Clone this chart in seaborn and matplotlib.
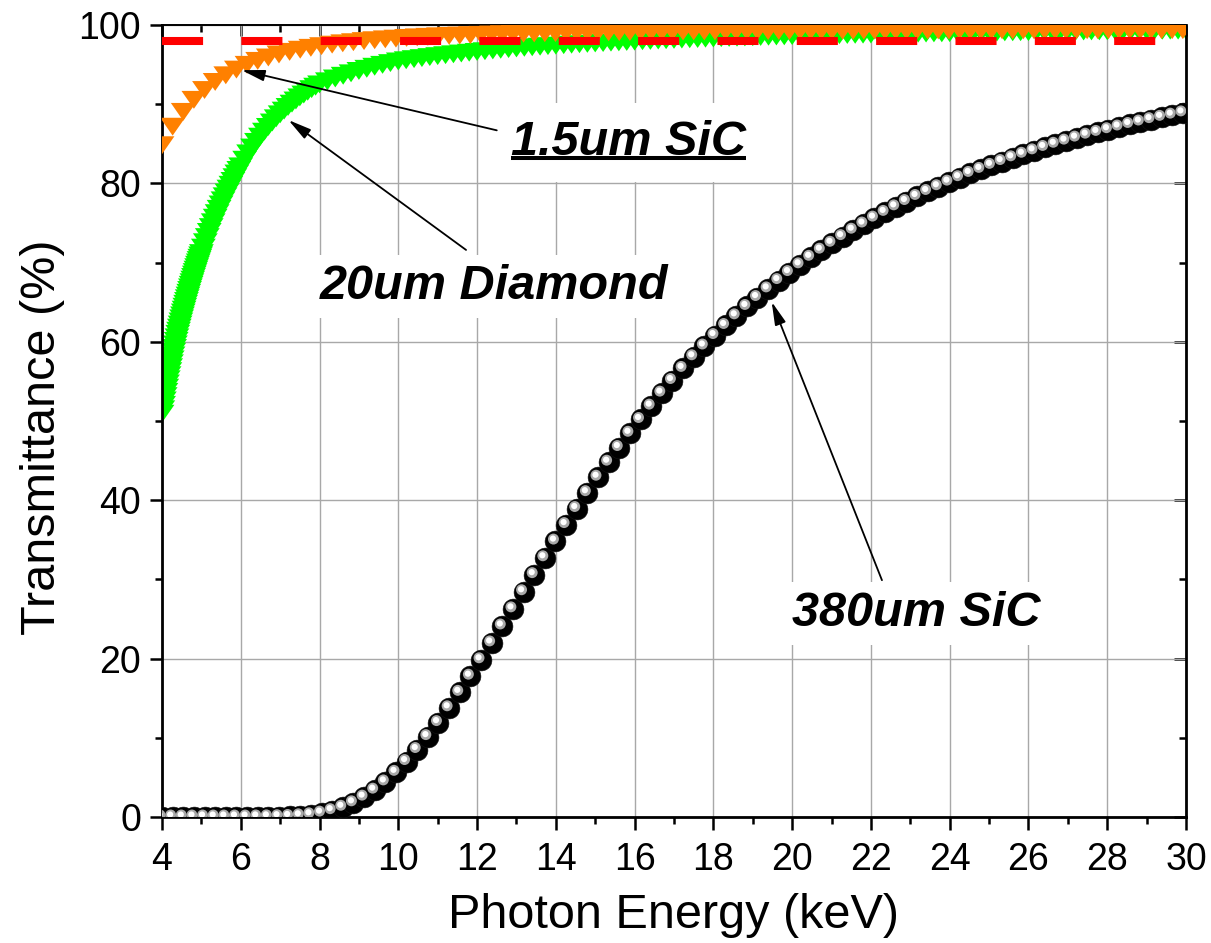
import matplotlib
matplotlib.use("Agg")
import matplotlib.pyplot as plt
import seaborn as sns
import pandas as pd
from matplotlib.ticker import MultipleLocator
from matplotlib.path import Path
from matplotlib.markers import MarkerStyle
from matplotlib.transforms import offset_copy
from matplotlib.lines import Line2D

# ---------------- data ----------------
energy_sic = [4.00, 4.27, 4.54, 4.81, 5.08, 5.35, 5.62, 5.89, 6.16, 6.43,
              6.70, 6.97, 7.24, 7.51, 7.78, 8.05, 8.32, 8.59, 8.86, 9.13,
              9.40, 9.67, 9.94, 10.21, 10.48, 10.75, 11.02, 11.29, 11.56, 11.83,
              12.10, 12.37, 12.64, 12.91, 13.18, 13.45, 13.72, 13.99, 14.26, 14.53,
              14.80, 15.07, 15.34, 15.61, 15.88, 16.15, 16.42, 16.69, 16.96, 17.23,
              17.50, 17.77, 18.04, 18.31, 18.58, 18.85, 19.12, 19.39, 19.66, 19.93,
              20.20, 20.47, 20.74, 21.01, 21.28, 21.55, 21.82, 22.09, 22.36, 22.63,
              22.90, 23.17, 23.44, 23.71, 23.98, 24.25, 24.52, 24.79, 25.06, 25.33,
              25.60, 25.87, 26.14, 26.41, 26.68, 26.95, 27.22, 27.49, 27.76, 28.03,
              28.30, 28.57, 28.84, 29.11, 29.38, 29.65, 29.92]

sic_380um = [0.00, 0.00, 0.00, 0.00, 0.00, 0.00, 0.00, 0.00, 0.00, 0.01,
             0.02, 0.04, 0.07, 0.15, 0.28, 0.49, 0.80, 1.23, 1.79, 2.51,
             3.39, 4.43, 5.64, 7.00, 8.52, 10.15, 11.92, 13.79, 15.74, 17.78,
             19.85, 21.98, 24.12, 26.28, 28.44, 30.60, 32.73, 34.84, 36.92, 38.95,
             40.95, 42.90, 44.80, 46.65, 48.45, 50.19, 51.88, 53.52, 55.11, 56.64,
             58.11, 59.47, 60.79, 62.06, 63.28, 64.46, 65.59, 66.68, 67.73, 68.74,
             69.72, 70.67, 71.57, 72.44, 73.28, 74.09, 74.87, 75.62, 76.34, 77.04,
             77.71, 78.35, 78.98, 79.58, 80.16, 80.72, 81.26, 81.77, 82.28, 82.76,
             83.23, 83.68, 84.11, 84.54, 84.94, 85.34, 85.72, 86.09, 86.44, 86.78,
             87.12, 87.44, 87.75, 88.05, 88.34, 88.62, 88.90]

sic_1p5um = [84.82, 87.16, 89.03, 90.55, 91.79, 92.81, 93.65, 94.37, 94.97, 95.47,
             95.90, 96.28, 96.61, 96.88, 97.12, 97.33, 97.52, 97.69, 97.83, 97.97,
             98.08, 98.19, 98.28, 98.37, 98.44, 98.51, 98.57, 98.63, 98.67, 98.72,
             98.76, 98.80, 98.84, 98.87, 98.90, 98.93, 98.96, 98.98, 99.01, 99.03,
             99.05, 99.07, 99.08, 99.10, 99.11, 99.13, 99.14, 99.15, 99.17, 99.18,
             99.19, 99.19, 99.20, 99.21, 99.22, 99.23, 99.23, 99.24, 99.25, 99.25,
             99.26, 99.26, 99.27, 99.27, 99.28, 99.28, 99.29, 99.29, 99.29, 99.30,
             99.30, 99.30, 99.31, 99.31, 99.31, 99.32, 99.32, 99.32, 99.32, 99.33,
             99.33, 99.33, 99.33, 99.33, 99.34, 99.34, 99.34, 99.34, 99.34, 99.34,
             99.35, 99.35, 99.35, 99.35, 99.35, 99.35, 99.35]

energy_diamond = [4.00, 4.02, 4.04, 4.06, 4.08, 4.10, 4.12, 4.14, 4.16, 4.18,
                  4.20, 4.22, 4.24, 4.26, 4.28, 4.30, 4.32, 4.34, 4.36, 4.38,
                  4.40, 4.42, 4.44, 4.46, 4.48, 4.50, 4.52, 4.54, 4.56, 4.58,
                  4.60, 4.62, 4.64, 4.66, 4.68, 4.70, 4.72, 4.74, 4.76, 4.78,
                  4.80, 4.82, 4.84, 4.86, 4.88, 4.90, 4.92, 4.94, 4.96, 4.98, 5.00,
                  5.05, 5.10, 5.15, 5.20, 5.25, 5.30, 5.35, 5.40, 5.45, 5.50,
                  5.55, 5.60, 5.65, 5.70, 5.75, 5.80, 5.85, 5.90, 5.95, 6.00,
                  6.1, 6.2, 6.3, 6.4, 6.5, 6.6, 6.7, 6.8, 6.9, 7.0,
                  7.1, 7.2, 7.3, 7.4, 7.5, 7.6, 7.7, 7.8, 7.9, 8.0,
                  8.2, 8.4, 8.6, 8.8, 9.0, 9.2, 9.4, 9.6, 9.8, 10.0,
                  10.2, 10.4, 10.6, 10.8, 11.0, 11.2, 11.4, 11.6, 11.8, 12.0,
                  12.2, 12.4, 12.6, 12.8, 13.0, 13.2, 13.4, 13.6, 13.8, 14.0,
                  14.2, 14.4, 14.6, 14.8, 15.0, 15.2, 15.4, 15.6, 15.8, 16.0,
                  16.2, 16.4, 16.6, 16.8, 17.0, 17.2, 17.4, 17.6, 17.8, 18.0,
                  18.2, 18.4, 18.6, 18.8, 19.0, 19.2, 19.4, 19.6, 19.8, 20.0,
                  20.2, 20.4, 20.6, 20.8, 21.0, 21.2, 21.4, 21.6, 21.8, 22.0,
                  22.2, 22.4, 22.6, 22.8, 23.0, 23.2, 23.4, 23.6, 23.8, 24.0,
                  24.2, 24.4, 24.6, 24.8, 25.0, 25.2, 25.4, 25.6, 25.8, 26.0,
                  26.2, 26.4, 26.6, 26.8, 27.0, 27.2, 27.4, 27.6, 27.8, 28.0,
                  28.2, 28.4, 28.6, 28.8, 29.0, 29.2, 29.4, 29.6, 29.8, 30.0]

diamond_20um = [50.92, 51.48, 52.04, 52.60, 53.14, 53.68, 54.21, 54.74, 55.27, 55.78,
                56.29, 56.79, 57.29, 57.78, 58.28, 58.76, 59.22, 59.67, 60.12, 60.56,
                61.01, 61.40, 61.79, 62.18, 62.57, 62.96, 63.33, 63.70, 64.06, 64.43,
                64.80, 65.15, 65.50, 65.84, 66.19, 66.54, 66.87, 67.20, 67.52, 67.85,
                68.18, 68.49, 68.80, 69.11, 69.42, 69.73, 70.02, 70.32, 70.61, 70.91, 71.20,
                71.89, 72.57, 73.22, 73.87, 74.48, 75.09, 75.67, 76.24, 76.79, 77.34,
                77.86, 78.37, 78.86, 79.34, 79.83, 80.31, 80.78, 81.25, 81.70, 82.15,
                82.99, 83.79, 84.53, 85.24, 85.90, 86.53, 87.13, 87.69, 88.22, 88.72,
                89.19, 89.65, 90.07, 90.47, 90.86, 91.22, 91.57, 91.90, 92.21, 92.50,
                92.89, 93.25, 93.59, 93.90, 94.20, 94.47, 94.73, 94.97, 95.19, 95.40,
                95.55, 95.69, 95.82, 95.95, 96.07, 96.19, 96.30, 96.40, 96.50, 96.60,
                96.69, 96.79, 96.87, 96.96, 97.04, 97.12, 97.19, 97.26, 97.33, 97.39,
                97.45, 97.51, 97.57, 97.62, 97.67, 97.72, 97.77, 97.81, 97.86, 97.90,
                97.95, 97.99, 98.04, 98.08, 98.12, 98.16, 98.20, 98.23, 98.27, 98.30,
                98.34, 98.37, 98.40, 98.43, 98.46, 98.49, 98.52, 98.55, 98.57, 98.60,
                98.62, 98.64, 98.66, 98.68, 98.70, 98.72, 98.74, 98.76, 98.78, 98.80,
                98.82, 98.83, 98.85, 98.87, 98.89, 98.91, 98.92, 98.94, 98.95, 98.97,
                98.98, 99.00, 99.01, 99.03, 99.04, 99.05, 99.07, 99.08, 99.09, 99.10,
                99.12, 99.13, 99.14, 99.15, 99.16, 99.17, 99.18, 99.19, 99.20, 99.21,
                99.22, 99.23, 99.24, 99.25, 99.26, 99.27, 99.28, 99.29, 99.29, 99.30]

ref_energy = [4, 30]
ref_level = [98, 98]

x_ticks = [4, 6, 8, 10, 12, 14, 16, 18, 20, 22, 24, 26, 28, 30]
y_ticks = [0, 20, 40, 60, 80, 100]

labels = ["1.5um SiC", "20um Diamond", "380um SiC"]

# ---------------- style ----------------
sns.set_style("ticks")
plt.rcParams['font.family'] = ['Liberation Sans', 'DejaVu Sans']
plt.rcParams['text.color'] = 'black'
plt.rcParams['axes.labelcolor'] = 'black'
plt.rcParams['xtick.color'] = 'black'
plt.rcParams['ytick.color'] = 'black'

fig = plt.figure(figsize=(12.11, 9.43), dpi=100)
ax = fig.add_axes([162 / 1211, 1 - 817 / 943, 1024 / 1211, 792 / 943])

tri_path = Path([(-1.0, 0.72), (1.0, 0.72), (0.0, -0.72), (-1.0, 0.72)],
                [Path.MOVETO, Path.LINETO, Path.LINETO, Path.CLOSEPOLY])
tri = MarkerStyle(tri_path)

df_sic = pd.DataFrame({"E": energy_sic, "thick": sic_380um, "thin": sic_1p5um})
df_dia = pd.DataFrame({"E": energy_diamond, "T": diamond_20um})
df_ref = pd.DataFrame({"E": ref_energy, "T": ref_level})

TRI_S = 320
BALL_S = 225

# 20um diamond (green)
sns.scatterplot(data=df_dia, x="E", y="T", ax=ax, marker=tri, s=TRI_S,
                color="#00ff00", edgecolor="none", linewidth=0, zorder=2, legend=False)
# 1.5um SiC (orange)
sns.scatterplot(data=df_sic, x="E", y="thin", ax=ax, marker=tri, s=TRI_S,
                color="#ff8000", edgecolor="none", linewidth=0, zorder=3, legend=False)
# 98% reference (red dashed)
sns.lineplot(data=df_ref, x="E", y="T", ax=ax, color="#ff0000", linewidth=5.8,
             linestyle=(0, (5.1, 4.75)), errorbar=None, zorder=4, legend=False)
# 380um SiC (black glossy spheres)
sns.scatterplot(data=df_sic, x="E", y="thick", ax=ax, marker="o", s=BALL_S,
                color="black", edgecolor="#151515", linewidth=0.4, zorder=5, legend=False)
sns.scatterplot(data=df_sic, x="E", y="thick", ax=ax, marker="o", s=62,
                color="#a9a9a9", edgecolor="none", linewidth=0, zorder=6, legend=False)
ax.collections[-1].set_offset_transform(offset_copy(ax.transData, fig=fig, x=-2, y=2, units='dots'))
sns.scatterplot(data=df_sic, x="E", y="thick", ax=ax, marker="o", s=20,
                color="white", edgecolor="none", linewidth=0, zorder=7, legend=False)
ax.collections[-1].set_offset_transform(offset_copy(ax.transData, fig=fig, x=-2.5, y=2.5, units='dots'))

# ---------------- axes ----------------
ax.set_xlim(4, 30)
ax.set_ylim(0, 100)
ax.set_xticks(x_ticks)
ax.set_yticks(y_ticks)
ax.xaxis.set_minor_locator(MultipleLocator(1))
ax.yaxis.set_minor_locator(MultipleLocator(10))
ax.grid(True, which='major', color='#a8a8a8', linewidth=1.0)
ax.set_axisbelow(True)

ax.tick_params(which='major', direction='out', length=9, width=1.8, labelsize=27,
               top=False, right=False, colors='black')
ax.tick_params(which='minor', direction='out', length=4.7, width=1.8, top=False, right=False)
ax.tick_params(axis='x', which='major', pad=9)
ax.tick_params(axis='y', which='major', pad=6)

for side in ['left', 'bottom', 'right']:
    ax.spines[side].set_linewidth(2.0)
    ax.spines[side].set_color('black')
    ax.spines[side].set_visible(True)
ax.spines['top'].set_linewidth(1.4)
ax.spines['top'].set_color('black')
ax.spines['top'].set_visible(True)

secx = ax.secondary_xaxis('top')
secx.set_xticks(x_ticks)
secx.xaxis.set_minor_locator(MultipleLocator(1))
secx.tick_params(which='major', direction='in', length=8, width=1.8, labeltop=False, labelbottom=False)
secx.tick_params(which='minor', direction='in', length=5, width=1.8)
secx.spines['top'].set_visible(False)

secy = ax.secondary_yaxis('right')
secy.set_yticks(y_ticks)
secy.yaxis.set_minor_locator(MultipleLocator(10))
secy.tick_params(which='major', direction='in', length=9, width=1.8, labelright=False, labelleft=False)
secy.tick_params(which='minor', direction='in', length=5, width=1.8)
secy.spines['right'].set_visible(False)

ax.set_xlabel("Photon Energy (keV)", fontsize=35, color='black')
ax.set_ylabel("Transmittance (%)", fontsize=35, color='black')
ax.xaxis.set_label_coords(0.5, -0.096)
ax.yaxis.set_label_coords(-0.095, 0.48)

# ---------------- annotations ----------------
txt_kw = dict(fontsize=35, fontweight='bold', fontstyle='italic', ha='center',
              va='baseline', color='black', zorder=8)
t1 = ax.text(15.85, 83.6, labels[0],
             bbox=dict(boxstyle='square,pad=0.35', fc='white', ec='none'), **txt_kw)
t2 = ax.text(12.43, 65.4, labels[1],
             bbox=dict(boxstyle='square,pad=0.18', fc='white', ec='none'), **txt_kw)
t3 = ax.text(23.15, 24.1, labels[2],
             bbox=dict(boxstyle='square,pad=0.18', fc='white', ec='none'), **txt_kw)

arrow_kw = dict(arrowstyle='-|>,head_length=0.7,head_width=0.17', color='black',
                lw=1.3, shrinkA=0, shrinkB=0, mutation_scale=20)
ax.annotate('', xy=(6.02, 94.3), xytext=(12.50, 86.7), arrowprops=arrow_kw, zorder=9)
ax.annotate('', xy=(7.21, 88.0), xytext=(11.72, 71.6), arrowprops=arrow_kw, zorder=9)
ax.annotate('', xy=(19.48, 65.05), xytext=(22.28, 29.9), arrowprops=arrow_kw, zorder=9)

# underline for the first label
fig.canvas.draw()
renderer = fig.canvas.get_renderer()
bb = t1.get_window_extent(renderer)
fs_px = 35 * fig.dpi / 72
y_ul = bb.y0 + 0.212 * fs_px - 3.5
inv = fig.transFigure.inverted()
(x0f, yf), (x1f, _) = inv.transform([(bb.x0, y_ul), (bb.x1, y_ul)])
fig.add_artist(Line2D([x0f, x1f], [yf, yf], transform=fig.transFigure, color='black',
                      linewidth=2.9, solid_capstyle='butt', zorder=10))

fig.savefig("out.png", dpi=100)
